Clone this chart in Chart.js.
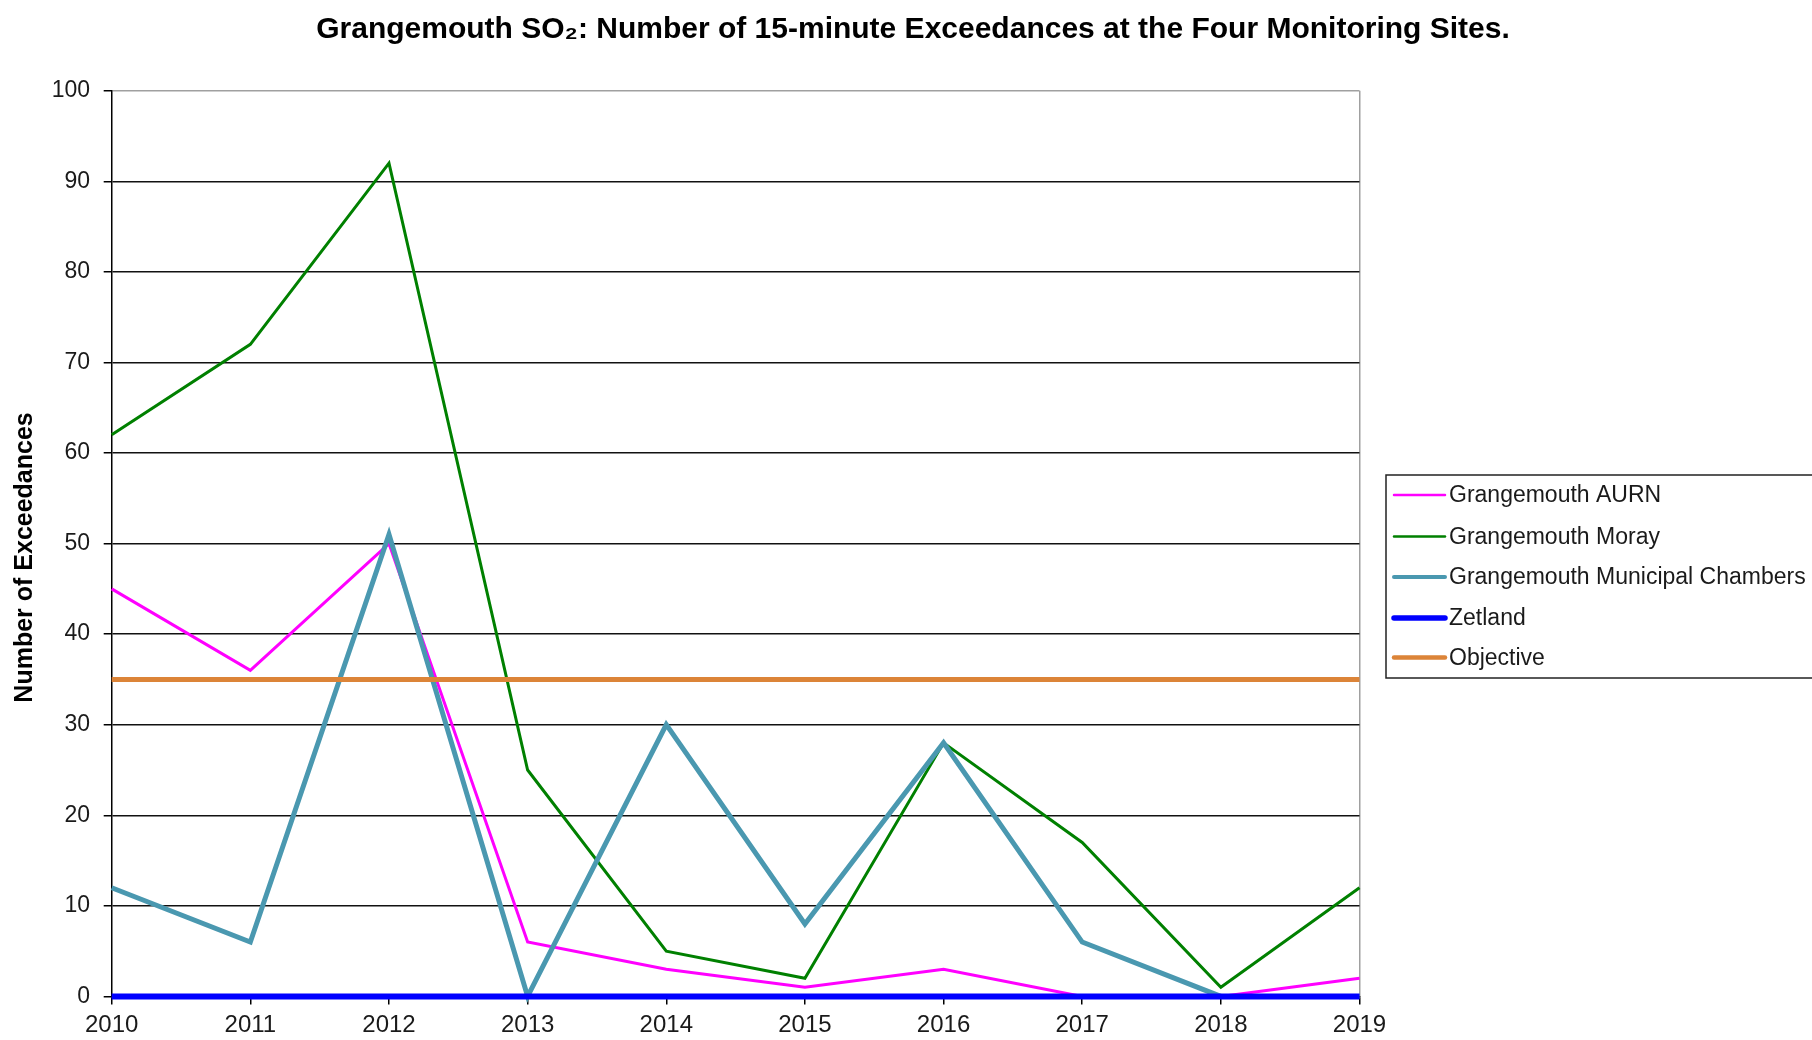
<!DOCTYPE html>
<html><head><meta charset="utf-8">
<script src="https://cdn.jsdelivr.net/npm/chart.js@4.4.1/dist/chart.umd.min.js"></script>
<style>html,body{margin:0;padding:0;background:#fff;overflow:hidden}#wrap{width:1812px;height:1040px;position:relative}</style>
</head><body><div id="wrap"><canvas id="c"></canvas></div>
<script>
const years = ['2010','2011','2012','2013','2014','2015','2016','2017','2018','2019'];
const aurn = [45,36,50,6,3,1,3,0,0,2];
const moray = [62,72,92,25,5,2,28,17,1,12];
const municipal = [12,6,51,0,30,8,28,6,0,0];
const zetland = [0,0,0,0,0,0,0,0,0,0];
const objective = [35,35,35,35,35,35,35,35,35,35];
const seriesNames = ['Grangemouth AURN','Grangemouth Moray','Grangemouth Municipal Chambers','Zetland','Objective'];
const titleText = 'Grangemouth SO\u2082: Number of 15-minute Exceedances at the Four Monitoring Sites.';
const yTitle = 'Number of Exceedances';
const yMin = 0, yMax = 100, yStep = 10;

const colors = ['#ff00ff','#008000','#4a98b0','#0000ff','#dc8438'];
const widths = [3,3,5,6,5];
const legendWidths = [2.5,2.5,4,5.5,4.5];
const orders = [3,4,2,1,0];
const FONT = "'Liberation Sans', Arial, sans-serif";

const decorPlugin = {
  id: 'decor',
  afterDraw(chart) {
    const ctx = chart.ctx;
    ctx.save();
    // title
    ctx.fillStyle = '#000';
    ctx.font = 'bold 30px ' + FONT;
    ctx.textAlign = 'center';
    ctx.textBaseline = 'middle';
    ctx.fillText(titleText, 913, 30);
    // legend box
    ctx.strokeStyle = '#222';
    ctx.lineWidth = 1.5;
    ctx.strokeRect(1386, 475, 440, 203);
    const ys = [495, 536.5, 577, 618, 657.5];
    chart.data.datasets.forEach((ds, i) => {
      ctx.strokeStyle = ds.borderColor;
      ctx.lineWidth = legendWidths[i];
      ctx.lineCap = 'round';
      ctx.beginPath();
      ctx.moveTo(1394, ys[i]);
      ctx.lineTo(1445, ys[i]);
      ctx.stroke();
      ctx.fillStyle = '#1a1a1a';
      ctx.font = '23px ' + FONT;
      ctx.textBaseline = 'middle';
      ctx.textAlign = 'left';
      ctx.fillText(ds.label, 1449, ys[i] + 1);
    });
    ctx.restore();
  }
};

const datasets = [aurn, moray, municipal, zetland, objective].map((d, i) => ({
  label: seriesNames[i],
  data: d,
  borderColor: colors[i],
  backgroundColor: colors[i],
  borderWidth: widths[i],
  pointRadius: 0,
  tension: 0,
  fill: false,
  clip: false,
  order: orders[i]
}));

new Chart(document.getElementById('c'), {
  type: 'line',
  data: { labels: years, datasets },
  options: {
    responsive: true,
    maintainAspectRatio: false,
    animation: false,
    layout: { padding: { left: 0, right: 452.5, top: 90.7, bottom: -7.2 } },
    plugins: {
      legend: { display: false },
      tooltip: { enabled: false },
      title: { display: false }
    },
    scales: {
      x: {
        offset: false,
        grid: {
          drawOnChartArea: true,
          drawTicks: true,
          tickLength: 8,
          color: (c) => c.index === years.length - 1 ? '#a0a0a0' : 'rgba(0,0,0,0)',
          tickColor: '#000',
          lineWidth: 1.5
        },
        border: { display: true, color: '#000', width: 1.5 },
        ticks: {
          color: '#1a1a1a',
          font: { family: FONT, size: 24 },
          padding: 7,
          maxRotation: 0,
          autoSkip: false
        }
      },
      y: {
        min: yMin, max: yMax,
        afterFit: (s) => { s.width = 111.7; },
        grid: {
          color: (c) => c.tick && c.tick.value === yMax ? '#a0a0a0' : '#111',
          tickColor: '#000',
          lineWidth: 1.5,
          tickLength: 8
        },
        border: { display: true, color: '#000', width: 1.5 },
        ticks: {
          stepSize: yStep,
          color: '#1a1a1a',
          font: { family: FONT, size: 23 },
          padding: 13.7
        },
        title: {
          display: true,
          text: yTitle + '    ',
          color: '#000',
          font: { family: FONT, size: 25, weight: 'bold' },
          padding: { top: 10, bottom: 0 }
        }
      }
    }
  },
  plugins: [decorPlugin]
});
</script>
</body></html>
